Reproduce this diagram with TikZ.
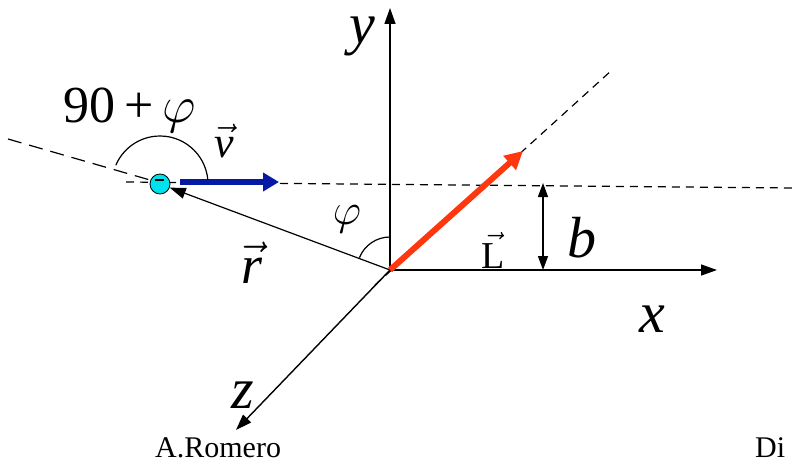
\RequirePackage{fix-cm}
\documentclass[tikz,border=0pt]{standalone}
\usepackage{fontspec}
\setmainfont{LiberationSerif}[Extension=.ttf, UprightFont=*-Regular, ItalicFont=*-Italic, BoldFont=*-Bold, BoldItalicFont=*-BoldItalic]
\usetikzlibrary{arrows.meta,calc}
\definecolor{MomRed}{RGB}{255,55,15}
\definecolor{MomBlue}{RGB}{5,25,165}
\definecolor{MomCyan}{RGB}{0,225,240}
\tikzset{
  mom/axis/.style={-{Triangle[length=16pt,width=11pt]}, line width=1.4pt},
  mom/both/.style={{Triangle[length=14pt,width=10pt]}-{Triangle[length=14pt,width=10pt]}, line width=1.4pt},
  mom/dashline/.style={dash pattern=on 8pt off 6pt, line width=1.2pt},
  mom/longdash/.style={dash pattern=on 14pt off 8pt, line width=1.2pt},
  mom/thin/.style={line width=1.2pt},
  mom/var/.style={font=\fontsize{58}{58}\selectfont\itshape, inner sep=0pt, anchor=base},
  mom/mid/.style={font=\fontsize{44}{44}\selectfont, inner sep=0pt, anchor=base},
  mom/foot/.style={font=\fontsize{30}{30}\selectfont, inner sep=0pt, anchor=base west}
}

\begin{document}
\begin{tikzpicture}[x=1pt,y=-1pt]
  \useasboundingbox (0,0) rectangle (794,460);
  % axes
  \coordinate (O) at (390,270);
  \coordinate (ytip) at (390,8);
  \coordinate (xtip) at (717,270);
  \coordinate (ztip) at (236,430);
  \draw[mom/axis] (O) -- (ytip);
  \draw[mom/axis] (O) -- (xtip);
  \draw[mom/axis] (O) -- (ztip);
  \node[mom/var] (ylab) at (362,44) {y};
  \node[mom/var] (xlab) at (652,332) {x};
  \node[mom/var] (zlab) at (243,408) {z};
  % lines of the path
  \coordinate (zback) at (375,285);
  \coordinate (ldir) at (612,70);
  \draw[mom/dashline] (zback) -- (ldir);
  \coordinate (pathL) at (126,182);
  \coordinate (pathR) at (794,188);
  \draw[mom/dashline] (pathL) -- (pathR);
  \coordinate (farL) at (8,139);
  \coordinate (farR) at (150,180);
  \draw[mom/longdash] (farL) -- (farR);
  % electron, velocity, position
  \node[circle, draw, thick, fill=MomCyan, minimum size=20pt, inner sep=0pt] (e) at (160,184) {};
  \draw[line width=1.6pt] ($(e)+(-5,-4)$) -- ($(e)+(4,-4)$);
  \coordinate (vstart) at (180,182);
  \coordinate (vtip) at (279,182);
  \draw[line width=6pt, MomBlue, -{Triangle[length=16pt,width=18pt]}] (vstart) -- (vtip);
  \draw[mom/thin, -{Triangle[length=16pt,width=11pt]}] (O) -- (e);
  \node[mom/mid] (vlab) at (224,157) {$\vec{\mathit{v}}$};
  \node[font=\fontsize{54}{54}\selectfont, inner sep=0pt, anchor=base] (rlab) at (252,283) {$\vec{\mathit{r}}$};
  % angles
  \draw[mom/thin] ($(e)+(-5:48)$) arc[start angle=-5, end angle=-157, radius=48];
  \node[font=\fontsize{52}{52}\selectfont, inner sep=0pt, anchor=base] (anglab) at (130,122) {90\,+\,$\varphi$};
  \draw[mom/thin] ($(O)+(-90:33)$) arc[start angle=-90, end angle=-158, radius=33];
  \node[mom/mid] (philab) at (347,224) {$\varphi$};
  % angular momentum and impact parameter
  \coordinate (Ltip) at (523,151);
  \draw[line width=6pt, MomRed, -{Triangle[length=18pt,width=18pt]}] (O) -- (Ltip);
  \node[font=\fontsize{38}{38}\selectfont, inner sep=0pt, anchor=base] (Llab) at (493,268) {$\vec{\mathrm{L}}$};
  \coordinate (btop) at (543,183);
  \coordinate (bbot) at (543,270);
  \draw[mom/both] (btop) -- (bbot);
  \node[mom/var] (blab) at (582,257) {b};
  % footer
  \node[mom/foot] (author) at (155,457) {A.Romero};
  \node[mom/foot] (title) at (755,457) {Di};
\end{tikzpicture}
\end{document}
